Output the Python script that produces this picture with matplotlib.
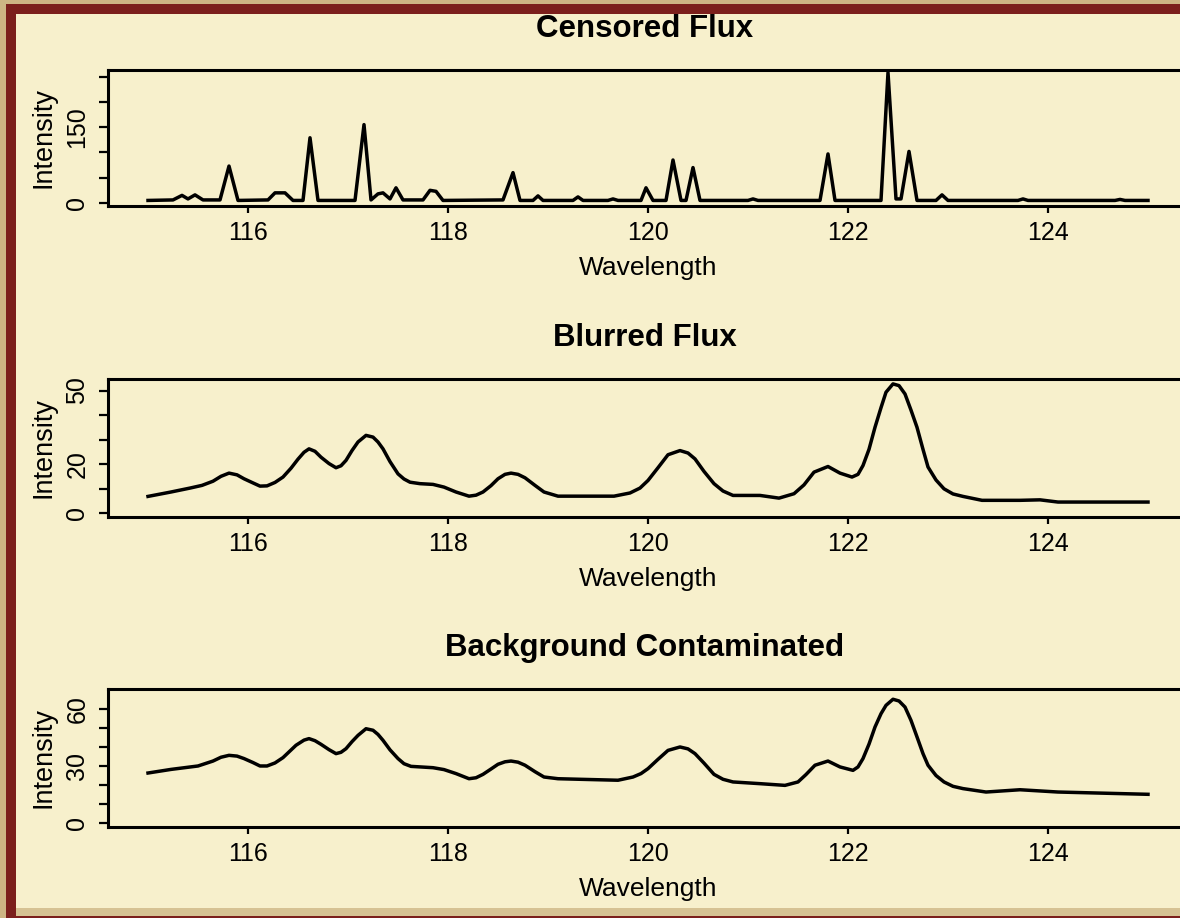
import numpy as np
import matplotlib
matplotlib.use("Agg")
import matplotlib.pyplot as plt
from matplotlib.patches import Rectangle

plt.rcParams['font.family'] = ['Liberation Sans', 'DejaVu Sans']

# censored flux: narrow emission lines on a flat floor
censored_wl = [115.0, 115.25, 115.34, 115.4, 115.47, 115.55, 115.72, 115.81, 115.9,
               116.2, 116.27, 116.37, 116.45, 116.55, 116.62, 116.7, 117.07, 117.16,
               117.23, 117.3, 117.35, 117.42, 117.48, 117.55, 117.75, 117.82, 117.88,
               117.95, 118.55, 118.65, 118.72, 118.85, 118.9, 118.95, 119.25, 119.3,
               119.35, 119.6, 119.65, 119.7, 119.93, 119.98, 120.05, 120.18, 120.25,
               120.33, 120.38, 120.45, 120.52, 121.0, 121.05, 121.1, 121.72, 121.8,
               121.87, 122.33, 122.4, 122.48, 122.53, 122.61, 122.69, 122.88, 122.94,
               123.0, 123.7, 123.75, 123.8, 124.67, 124.72, 124.77, 125.0]
censored_val = [5, 6, 15, 8, 16, 6, 6, 73, 5,
                6, 20, 20, 5, 5, 129, 5, 5, 155,
                6, 18, 20, 8, 30, 6, 6, 25, 23,
                5, 6, 60, 5, 5, 14, 5, 5, 12,
                5, 5, 8, 5, 5, 30, 5, 5, 85,
                5, 5, 70, 5, 5, 8, 5, 5, 97,
                5, 5, 258, 8, 8, 102, 5, 5, 16,
                5, 5, 8, 5, 5, 7, 5, 5]

# blurred flux
blurred_wl = [115.0, 115.23, 115.42, 115.54, 115.65, 115.73, 115.81, 115.89, 115.96,
              116.05, 116.12, 116.19, 116.27, 116.35, 116.43, 116.5, 116.56, 116.61,
              116.67, 116.73, 116.81, 116.88, 116.93, 116.98, 117.04, 117.1, 117.18,
              117.25, 117.3, 117.35, 117.42, 117.5, 117.56, 117.62, 117.72, 117.85,
              117.96, 118.08, 118.21, 118.28, 118.35, 118.43, 118.5, 118.57, 118.63,
              118.7, 118.77, 118.87, 118.96, 119.1, 119.35, 119.66, 119.82, 119.92,
              120.0, 120.1, 120.2, 120.32, 120.4, 120.47, 120.56, 120.66, 120.75,
              120.85, 121.12, 121.31, 121.46, 121.56, 121.66, 121.8, 121.92, 122.04,
              122.1, 122.15, 122.21, 122.27, 122.33, 122.38, 122.45, 122.51, 122.57,
              122.63, 122.69, 122.75, 122.8, 122.88, 122.96, 123.05, 123.15, 123.34,
              123.72, 123.92, 124.1, 125.0]
blurred_val = [6.8, 8.6, 10.2, 11.3, 13.0, 15.0, 16.3, 15.6, 14.0,
               12.3, 11.0, 11.1, 12.5, 14.7, 18.3, 22.0, 24.8, 26.2,
               25.2, 22.8, 20.2, 18.5, 19.3, 21.5, 25.5, 29.0, 31.7,
               31.0, 29.0, 26.2, 21.0, 16.0, 13.9, 12.6, 12.0, 11.7,
               10.6, 8.6, 6.9, 7.3, 8.6, 11.2, 14.0, 15.8, 16.3,
               15.8, 14.4, 11.3, 8.6, 6.9, 6.9, 6.9, 8.2, 10.2,
               13.3, 18.5, 23.8, 25.5, 24.5, 22.1, 17.0, 12.0, 9.0,
               7.2, 7.2, 6.1, 7.9, 11.5, 16.7, 19.0, 16.3, 14.7,
               15.8, 19.4, 26.0, 35.0, 43.0, 49.3, 52.7, 52.0, 48.6,
               42.0, 35.0, 26.0, 18.8, 13.5, 9.9, 7.8, 6.8, 5.2,
               5.2, 5.4, 4.5, 4.5]

# background contaminated
backgr_wl = [115.0, 115.23, 115.5, 115.65, 115.73, 115.81, 115.89, 115.96, 116.05,
             116.12, 116.19, 116.27, 116.35, 116.48, 116.56, 116.61, 116.67, 116.73,
             116.81, 116.88, 116.93, 116.98, 117.04, 117.1, 117.18, 117.25, 117.3,
             117.35, 117.42, 117.5, 117.56, 117.63, 117.85, 117.96, 118.08, 118.21,
             118.28, 118.35, 118.43, 118.5, 118.57, 118.63, 118.7, 118.77, 118.87,
             118.96, 119.1, 119.32, 119.7, 119.85, 119.93, 120.0, 120.1, 120.2,
             120.32, 120.4, 120.47, 120.56, 120.66, 120.75, 120.85, 121.12, 121.37,
             121.5, 121.58, 121.67, 121.8, 121.92, 122.05, 122.1, 122.15, 122.21,
             122.27, 122.33, 122.38, 122.45, 122.51, 122.57, 122.63, 122.69, 122.75,
             122.8, 122.88, 122.96, 123.05, 123.15, 123.38, 123.72, 124.1, 125.0]
backgr_val = [26.3, 28.2, 30.0, 32.6, 34.6, 35.6, 35.2, 33.9, 31.8,
              30.0, 30.0, 31.6, 34.4, 40.9, 43.6, 44.4, 43.3, 41.4,
              38.6, 36.5, 37.2, 39.1, 42.8, 46.1, 49.6, 48.8, 46.6,
              43.5, 38.5, 33.9, 31.2, 29.8, 29.1, 28.1, 26.0, 23.3,
              23.8, 25.6, 28.4, 30.9, 32.2, 32.6, 32.0, 30.4, 27.0,
              24.2, 23.3, 23.0, 22.5, 24.2, 26.0, 28.6, 33.5, 38.2,
              40.0, 39.0, 36.5, 31.5, 25.6, 23.0, 21.6, 20.7, 19.8,
              21.6, 25.5, 30.4, 32.6, 29.5, 27.7, 29.5, 33.9, 41.5,
              50.5, 57.5, 61.9, 65.1, 64.2, 61.0, 54.0, 45.3, 36.5,
              30.4, 25.0, 21.6, 19.3, 18.1, 16.3, 17.5, 16.3, 15.1]

xticks = [116, 118, 120, 122, 124]
panels = [
    dict(title='Censored Flux', wl=censored_wl, val=censored_val,
         ylim=(-6, 263), yticks=[0, 50, 100, 150, 200, 250],
         ylabels=['0', '', '', '150', '', ''], ytitle=29),
    dict(title='Blurred Flux', wl=blurred_wl, val=blurred_val,
         ylim=(-1.6, 54.7), yticks=[0, 10, 20, 30, 40, 50],
         ylabels=['0', '', '20', '', '', '50'], ytitle=338),
    dict(title='Background Contaminated', wl=backgr_wl, val=backgr_val,
         ylim=(-2.1, 70.5), yticks=[0, 10, 20, 30, 40, 50, 60],
         ylabels=['0', '', '', '30', '', '', '60'], ytitle=648),
]
axes_top = [70, 379, 689]   # px from the top
axes_h = [136, 138, 138]

W, H = 1180, 918
cream = '#f7f0cc'
fig = plt.figure(figsize=(W / 100, H / 100), dpi=100, facecolor='#cdb584')

def band(x0, y0, x1, y1, color, z):
    # rectangle given in pixels measured from the top-left corner
    fig.patches.append(Rectangle((x0 / W, 1 - y1 / H), (x1 - x0) / W, (y1 - y0) / H,
                                 transform=fig.transFigure, facecolor=color,
                                 edgecolor='none', zorder=z))

band(6, 4, W, H, '#7b1f1c', -3)       # red frame
band(16, 908, W, 916, '#d6c293', -2)  # tan strip under the card
band(16, 14, W, 908, cream, -1)       # cream card

for p, top, h in zip(panels, axes_top, axes_h):
    ax = fig.add_axes([108 / W, 1 - (top + h) / H, 1080 / W, h / H])
    ax.set_facecolor('none')
    ax.plot(p['wl'], p['val'], color='black', lw=2.5, solid_joinstyle='round')
    ax.set_xlim(114.6, 125.4)
    ax.set_ylim(*p['ylim'])
    ax.set_xticks(xticks)
    ax.set_yticks(p['yticks'])
    ax.set_yticklabels(p['ylabels'], rotation=90, va='center', ha='right')
    for s in ax.spines.values():
        s.set_linewidth(2.2)
    ax.tick_params(axis='x', length=5, width=1.6, pad=6, labelsize=18)
    ax.tick_params(axis='y', length=6.5, width=1.6, pad=7, labelsize=18)
    ax.set_xlabel('Wavelength', fontsize=19, labelpad=8)
    ax.set_ylabel('Intensity', fontsize=19.5, labelpad=6)
    fig.text(645 / W, 1 - p['ytitle'] / H, p['title'], ha='center', va='center',
             fontsize=22.5, fontweight='bold')

fig.savefig('out.png', dpi=100, facecolor=fig.get_facecolor())
